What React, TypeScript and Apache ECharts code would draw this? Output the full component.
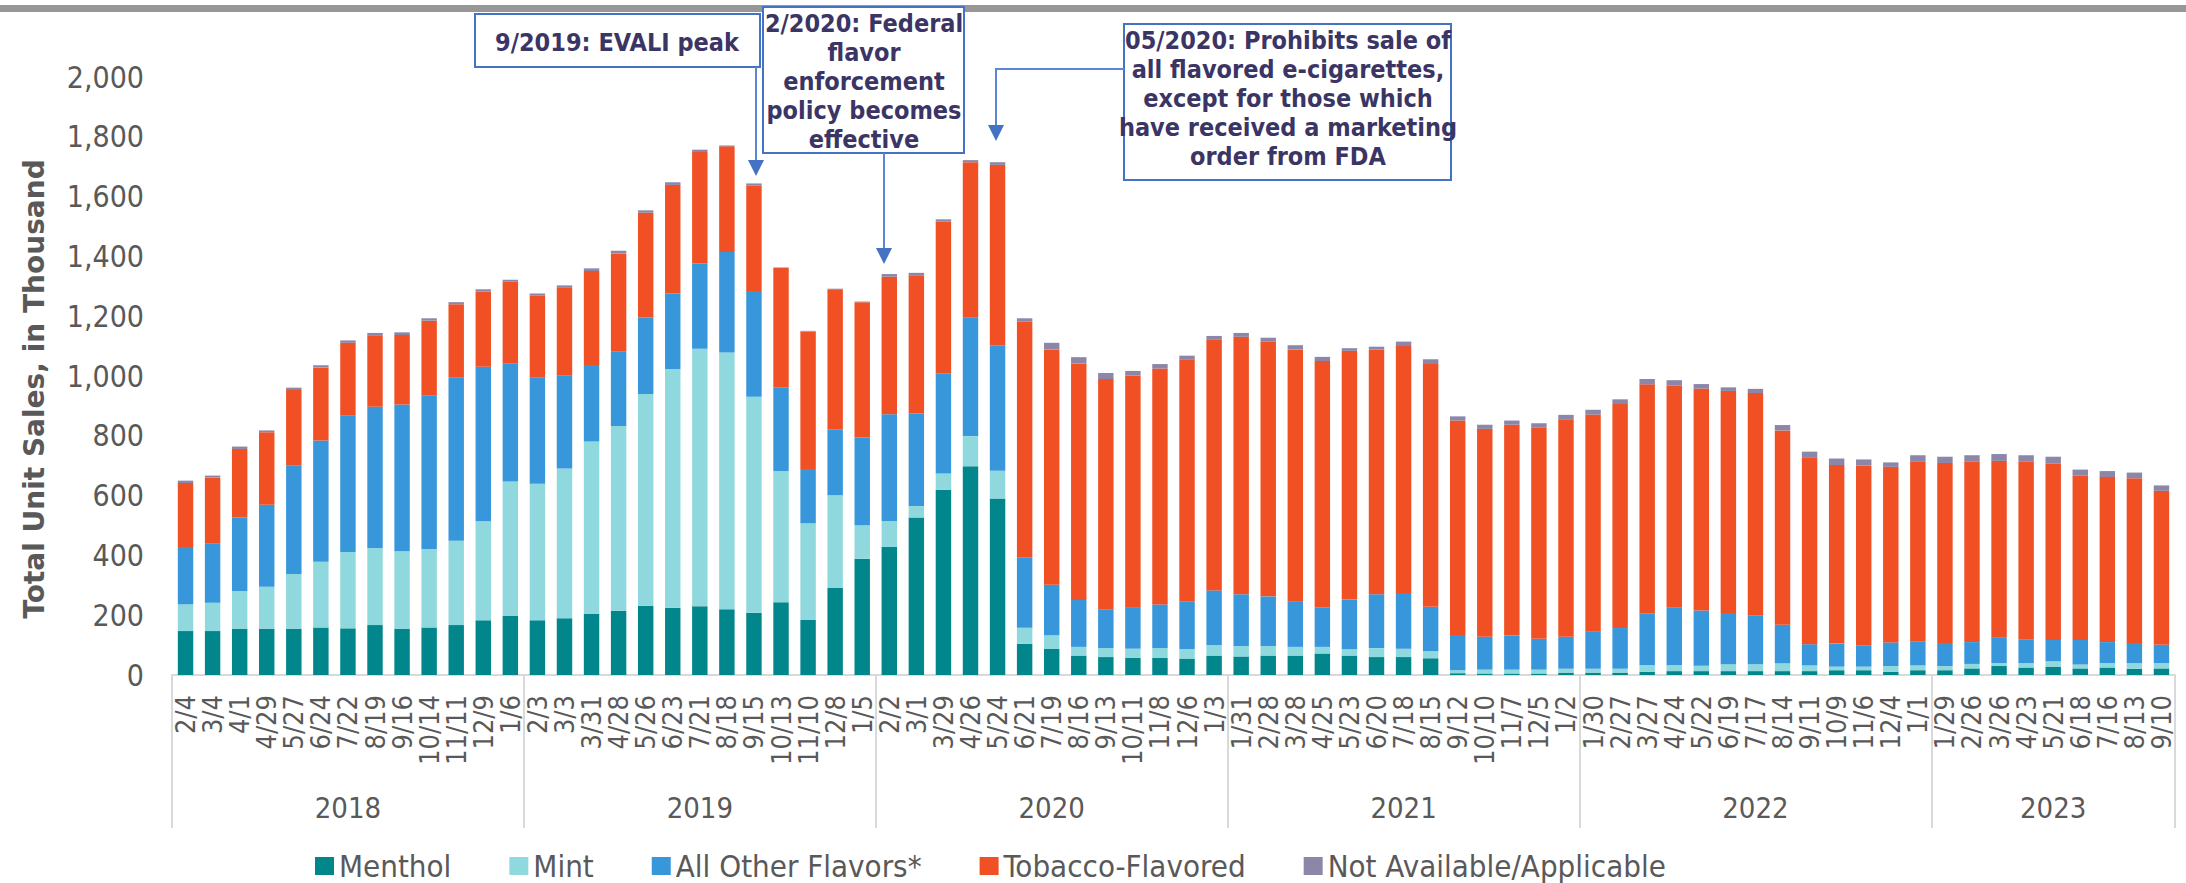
import React, { useEffect, useRef } from "react";
import * as echarts from "echarts";

const periodLabels = [
  "2/4","3/4","4/1","4/29","5/27","6/24","7/22","8/19","9/16","10/14","11/11","12/9","1/6",
  "2/3","3/3","3/31","4/28","5/26","6/23","7/21","8/18","9/15","10/13","11/10","12/8","1/5",
  "2/2","3/1","3/29","4/26","5/24","6/21","7/19","8/16","9/13","10/11","11/8","12/6","1/3",
  "1/31","2/28","3/28","4/25","5/23","6/20","7/18","8/15","9/12","10/10","11/7","12/5","1/2",
  "1/30","2/27","3/27","4/24","5/22","6/19","7/17","8/14","9/11","10/9","11/6","12/4","1/1",
  "1/29","2/26","3/26","4/23","5/21","6/18","7/16","8/13","9/10",
];
const yearLabels = ["2018", "2019", "2020", "2021", "2022", "2023"];
const periodsPerYear = [13, 13, 13, 13, 13, 9];

const menthol = [
  147,147,155,155,155,159,156,167,155,159,167,183,197,
  183,190,204,215,232,225,230,220,208,243,184,291,389,
  428,527,619,698,590,104,87,65,60,57,57,55,65,
  62,65,65,72,65,60,60,56,6,5,5,5,8,
  8,8,11,13,13,13,13,13,13,16,16,11,16,
  16,22,30,25,28,22,25,21,22,
];
const mint = [
  90,95,126,140,183,220,255,258,259,262,282,331,450,
  457,501,577,618,708,798,861,859,723,439,323,310,112,
  87,38,55,101,93,54,46,29,30,31,33,32,35,
  35,32,29,22,21,30,28,24,10,13,13,13,13,
  13,13,22,20,18,23,23,26,19,12,12,19,16,
  14,15,10,15,18,13,15,19,18,
];
const allOther = [
  191,197,246,274,362,405,456,472,491,513,545,517,396,
  354,310,256,248,256,253,285,336,353,280,182,221,293,
  357,310,335,396,420,236,169,157,130,139,146,158,183,
  173,166,153,132,167,180,186,148,118,110,114,103,107,
  124,136,173,192,185,171,162,129,71,77,71,79,81,
  77,73,85,78,71,82,70,67,61,
];
const tobacco = [
  214,221,229,243,253,244,244,239,232,251,246,251,272,
  275,296,314,329,350,363,373,353,353,399,460,468,453,
  460,462,507,520,603,788,787,791,770,774,789,811,840,
  861,852,842,824,831,818,826,812,717,695,705,708,727,
  726,749,766,743,742,743,745,650,625,597,601,587,602,
  602,603,591,595,590,550,552,551,515,
];
const notAvailable = [
  8,7,8,6,8,8,8,8,9,8,7,8,7,
  7,6,9,9,8,9,8,3,7,2,2,2,2,
  9,8,8,7,9,11,22,21,20,16,15,12,11,
  13,13,14,14,9,10,15,16,14,14,14,13,15,
  16,16,18,18,15,12,14,18,19,22,21,15,20,
  21,22,23,22,23,20,20,19,18,
];

const seriesNames = ["Menthol", "Mint", "All Other Flavors*", "Tobacco-Flavored", "Not Available/Applicable"];
const seriesColors = ["#00868B", "#8FD8DD", "#3797DA", "#F05024", "#8C87A8"];

const annotations = [
  "9/2019: EVALI peak",
  "2/2020: Federal\nflavor\nenforcement\npolicy becomes\neffective",
  "05/2020: Prohibits sale of\nall flavored e-cigarettes,\nexcept for those which\nhave received a marketing\norder from FDA",
];

const FONT = "'DejaVu Sans Condensed', 'DejaVu Sans', sans-serif";
const GRAY = "#595959";
const TEXT_DARK = "#3B3565";
const BOX_BLUE = "#4472C4";
const ARROW_BLUE = "#5B86D0";

export default function App() {
  const ref = useRef<HTMLDivElement>(null);

  useEffect(() => {
    if (!ref.current) return;
    const chart = echarts.init(ref.current, null, { renderer: "svg" });

    const yearOfPeriod: string[] = [];
    const groupStarts: number[] = [];
    const groupMiddles: number[] = [];
    let idx = 0;
    yearLabels.forEach((y, gi) => {
      groupStarts.push(idx);
      groupMiddles.push(idx + Math.floor(periodsPerYear[gi] / 2));
      for (let k = 0; k < periodsPerYear[gi]; k++) yearOfPeriod.push(y);
      idx += periodsPerYear[gi];
    });

    const dataSets = [menthol, mint, allOther, tobacco, notAvailable];

    const arrowHead = (x: number, tipY: number) => ({
      type: "polygon",
      shape: { points: [[x - 8, tipY - 16], [x + 8, tipY - 16], [x, tipY]] },
      style: { fill: BOX_BLUE },
      z: 100,
    });

    const textStyle = (text: string, x: number, y: number) => ({
      type: "text",
      x,
      y,
      z: 101,
      style: {
        text,
        fill: TEXT_DARK,
        font: `bold 25px ${FONT}`,
        textAlign: "center",
        textVerticalAlign: "middle",
        lineHeight: 29,
      },
    });

    const option: any = {
      animation: false,
      backgroundColor: "#ffffff",
      textStyle: { fontFamily: FONT },
      grid: { left: 172, right: 11, top: 77, bottom: 208, containLabel: false },
      legend: {
        left: 315,
        top: 850,
        padding: 0,
        itemWidth: 19,
        itemHeight: 18,
        itemGap: 58,
        icon: "rect",
        textStyle: { fontSize: 31, lineHeight: 32, color: GRAY, fontFamily: FONT },
        data: seriesNames,
      },
      xAxis: [
        {
          type: "category",
          data: periodLabels,
          position: "bottom",
          axisLine: { show: true, lineStyle: { color: "#D9D9D9", width: 2 } },
          axisTick: { show: false },
          axisLabel: {
            interval: 0,
            rotate: 90,
            margin: 20,
            fontSize: 27,
            color: GRAY,
            fontFamily: FONT,
          },
          splitLine: { show: false },
        },
        {
          type: "category",
          data: yearOfPeriod,
          position: "bottom",
          offset: 0,
          axisLine: { show: false },
          axisTick: {
            show: true,
            length: 153,
            interval: (i: number) => groupStarts.includes(i),
            lineStyle: { color: "#D9D9D9", width: 2 },
          },
          axisLabel: {
            interval: (i: number) => groupMiddles.includes(i),
            margin: 118,
            fontSize: 29,
            color: GRAY,
            fontFamily: FONT,
          },
          splitLine: { show: false },
        },
      ],
      yAxis: {
        type: "value",
        min: 0,
        max: 2000,
        interval: 200,
        axisLine: { show: false },
        axisTick: { show: false },
        splitLine: { show: false },
        axisLabel: {
          margin: 28,
          fontSize: 30,
          color: GRAY,
          fontFamily: FONT,
          formatter: (v: number) => v.toLocaleString("en-US"),
        },
      },
      series: seriesNames.map((name, i) => ({
        name,
        type: "bar",
        stack: "total",
        xAxisIndex: 0,
        barCategoryGap: "43%",
        data: dataSets[i],
        itemStyle: { color: seriesColors[i] },
      })),
      graphic: [
        { type: "rect", shape: { x: 0, y: 5, width: 2186, height: 7 }, style: { fill: "#979797" }, z: 90 },
        {
          type: "text",
          x: 34,
          y: 389,
          rotation: Math.PI / 2,
          z: 100,
          style: {
            text: "Total Unit Sales, in Thousand",
            fill: GRAY,
            font: `bold 28px 'DejaVu Sans', sans-serif`,
            textAlign: "center",
            textVerticalAlign: "middle",
          },
        },
        { type: "rect", shape: { x: 475, y: 14, width: 285, height: 53 }, style: { fill: "#fff", stroke: BOX_BLUE, lineWidth: 2 }, z: 100 },
        textStyle(annotations[0], 617, 42),
        { type: "polyline", shape: { points: [[756, 67], [756, 162]] }, style: { stroke: ARROW_BLUE, lineWidth: 2 }, z: 100 },
        arrowHead(756, 176),
        { type: "rect", shape: { x: 763, y: 7, width: 201, height: 146 }, style: { fill: "#fff", stroke: BOX_BLUE, lineWidth: 2 }, z: 100 },
        textStyle(annotations[1], 864, 81),
        { type: "polyline", shape: { points: [[884, 153], [884, 250]] }, style: { stroke: ARROW_BLUE, lineWidth: 2 }, z: 100 },
        arrowHead(884, 264),
        { type: "rect", shape: { x: 1124, y: 24, width: 327, height: 156 }, style: { fill: "#fff", stroke: BOX_BLUE, lineWidth: 2 }, z: 100 },
        textStyle(annotations[2], 1288, 98),
        { type: "polyline", shape: { points: [[1124, 69], [996, 69], [996, 127]] }, style: { stroke: ARROW_BLUE, lineWidth: 2 }, z: 100 },
        arrowHead(996, 141),
      ],
    };

    chart.setOption(option);
    return () => chart.dispose();
  }, []);

  return (
    <div
      ref={ref}
      style={{ position: "fixed", left: 0, top: 0, width: 2186, height: 883, background: "#fff" }}
    />
  );
}
